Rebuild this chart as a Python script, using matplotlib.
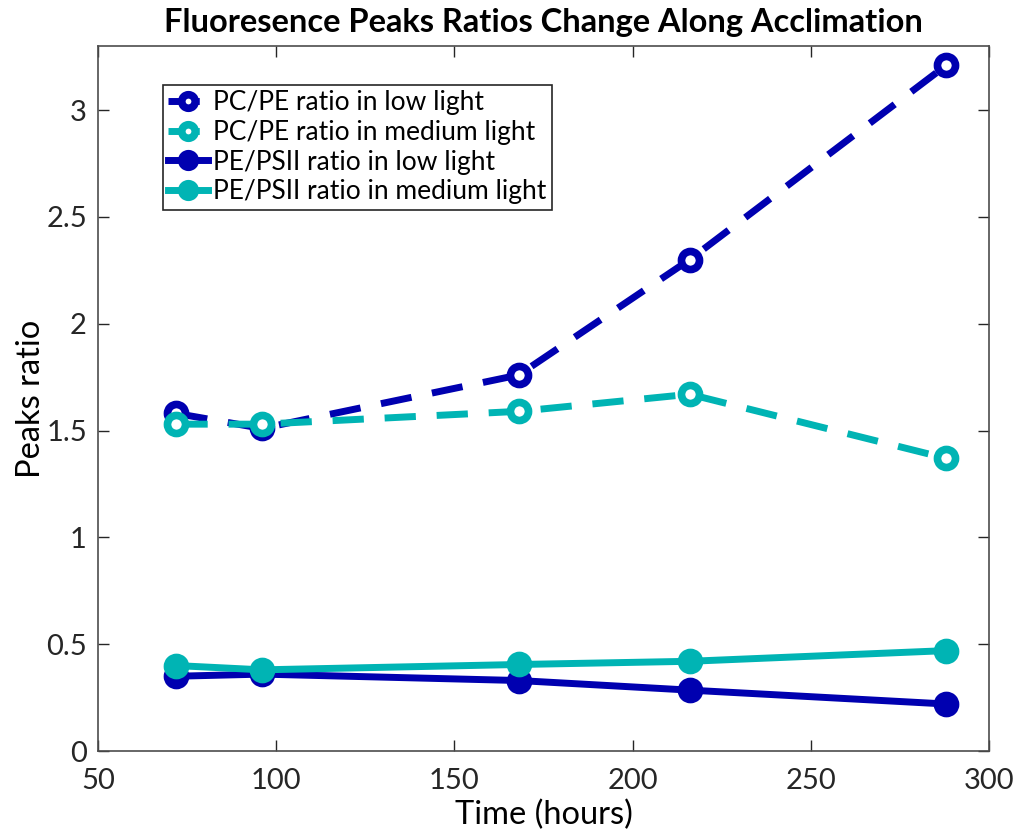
import numpy as np
import matplotlib
matplotlib.use("Agg")
import matplotlib.pyplot as plt

plt.rcParams['font.family'] = ['Lato', 'DejaVu Sans']

# time points (hours)
hours = [72, 96, 168, 216, 288]

# peak ratios
pcpe_low = [1.58, 1.51, 1.76, 2.30, 3.21]
pcpe_med = [1.53, 1.53, 1.59, 1.67, 1.37]
pepsii_low = [0.35, 0.36, 0.33, 0.285, 0.22]
pepsii_med = [0.40, 0.38, 0.405, 0.42, 0.47]

labels = ['PC/PE ratio in low light', 'PC/PE ratio in medium light',
          'PE/PSII ratio in low light', 'PE/PSII ratio in medium light']

blue = '#0000B0'
cyan = '#00B4B4'

fig = plt.figure(figsize=(10.17, 8.34), dpi=100)
ax = fig.add_axes([0.0964, 0.0995, 0.8761, 0.8453])

lw = 5
ms = 13
mew = 5.5
dash = (4.5, 3)

ax.plot(hours, pcpe_low, color=blue, lw=lw, dashes=dash, marker='o', ms=ms,
        mew=mew, mfc='white', mec=blue, label=labels[0])
ax.plot(hours, pcpe_med, color=cyan, lw=lw, dashes=dash, marker='o', ms=ms,
        mew=mew, mfc='white', mec=cyan, label=labels[1])
ax.plot(hours, pepsii_low, color=blue, lw=lw, marker='o', ms=ms,
        mew=mew, mfc=blue, mec=blue, label=labels[2])
ax.plot(hours, pepsii_med, color=cyan, lw=lw, marker='o', ms=ms,
        mew=mew, mfc=cyan, mec=cyan, label=labels[3])

ax.set_xlim(50, 300)
ax.set_ylim(0, 3.3)
ax.set_xticks([50, 100, 150, 200, 250, 300])
ax.set_yticks([0, 0.5, 1, 1.5, 2, 2.5, 3])
ax.set_yticklabels(['0', '0.5', '1', '1.5', '2', '2.5', '3'])
ax.tick_params(direction='in', length=8, width=1, labelsize=21, colors='#262626',
               top=True, right=True)
ax.tick_params(axis='x', pad=12)
ax.tick_params(axis='y', pad=8)
for s in ax.spines.values():
    s.set_color('#4d4d4d')
    s.set_linewidth(1.2)

ax.set_xlabel('Time (hours)', fontsize=23.5, labelpad=4)
ax.set_ylabel('Peaks ratio', fontsize=23.5, labelpad=0)
ax.set_title('Fluoresence Peaks Ratios Change Along Acclimation', fontsize=23.5,
             fontweight='bold', pad=10)

leg = ax.legend(loc='upper left', bbox_to_anchor=(0.073, 0.945), fontsize=19,
                handlelength=1.5, handletextpad=0.2, labelspacing=0.18,
                borderpad=0.2, borderaxespad=0, fancybox=False, framealpha=1,
                markerscale=0.75)
leg.get_frame().set_edgecolor('#262626')
leg.get_frame().set_linewidth(1.2)

fig.savefig('out.png', dpi=100)
